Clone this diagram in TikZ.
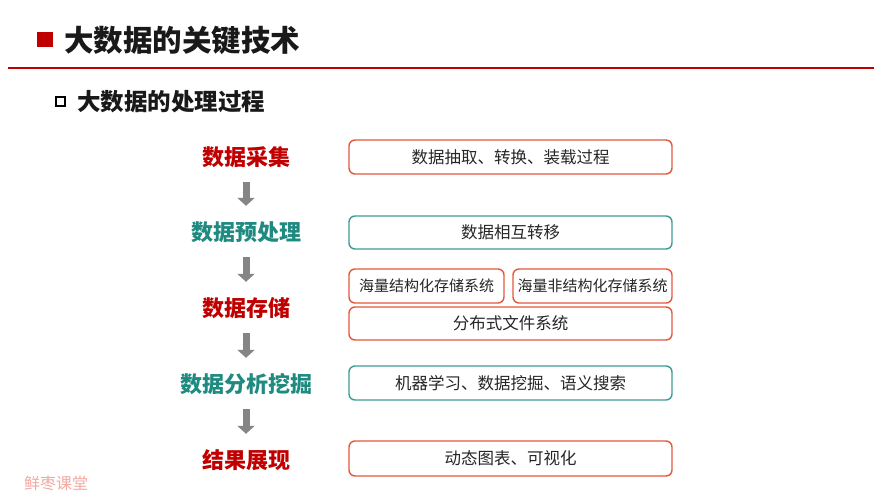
\documentclass[tikz,border=0pt]{standalone}
\usepackage{fontspec}
\setmainfont{Noto Sans CJK SC}
\usetikzlibrary{arrows.meta}
\definecolor{darkred}{HTML}{C00000}
\definecolor{tealtxt}{HTML}{1F8A80}
\definecolor{redbox}{HTML}{E2583E}
\definecolor{tealbox}{HTML}{3B9C97}
\definecolor{arrgray}{HTML}{858585}
\definecolor{wm}{HTML}{F4A9A0}
\tikzset{
  steplabel/.style={inner sep=0pt, text height=19pt, text depth=3pt, font=\fontsize{22}{24}\selectfont\bfseries},
  redlabel/.style={steplabel, text=darkred},
  teallabel/.style={steplabel, text=tealtxt},
  infobox/.style={rounded corners=6pt, line width=1.4pt, inner sep=0pt, font=\fontsize{16.5}{18}\selectfont, text=black!85},
  redinfo/.style={infobox, draw=redbox},
  tealinfo/.style={infobox, draw=tealbox},
  downarrow/.style={arrgray, line width=7pt, -{Triangle[width=17pt,length=8pt]}, shorten <=14pt, shorten >=15pt}
}
\begin{document}
\begin{tikzpicture}[x=1pt,y=-1pt]
\useasboundingbox (0,0) rectangle (888,500);
\fill[white] (0,0) rectangle (888,500);
% header
\fill[darkred] (37,32) rectangle (53,47);
\node[anchor=west, inner sep=0pt, font=\fontsize{29.5}{32}\selectfont\bfseries, text=black!90] (title) at (64,40) {大数据的关键技术};
\draw[darkred, line width=1.4pt] (8,68) -- (874,68);
\draw[black, line width=2pt] (56,97.5) rectangle (65,106.5);
\node[anchor=west, inner sep=0pt, font=\fontsize{23.5}{26}\selectfont\bfseries, text=black!90] (sub) at (77,101.5) {大数据的处理过程};
% left labels
\node[redlabel] (l1) at (246,157) {数据采集};
\node[teallabel] (l2) at (246,232) {数据预处理};
\node[redlabel] (l3) at (246,308) {数据存储};
\node[teallabel] (l4) at (246,384) {数据分析挖掘};
\node[redlabel] (l5) at (246,460) {结果展现};
\draw[downarrow] (l1) -- (l2);
\draw[downarrow] (l2) -- (l3);
\draw[downarrow] (l3) -- (l4);
\draw[downarrow] (l4) -- (l5);
% right boxes
\node[redinfo, minimum width=323pt, minimum height=34pt] (b1) at (510.5,157) {数据抽取、转换、装载过程};
\node[tealinfo, minimum width=323pt, minimum height=33pt] (b2) at (510.5,232.5) {数据相互转移};
\node[redinfo, minimum width=155pt, minimum height=34pt, font=\fontsize{15}{17}\selectfont] (b3a) at (426.5,286) {海量结构化存储系统};
\node[redinfo, minimum width=159pt, minimum height=34pt, font=\fontsize{15}{17}\selectfont] (b3b) at (592.5,286) {海量非结构化存储系统};
\node[redinfo, minimum width=323pt, minimum height=33pt] (b4) at (510.5,323.5) {分布式文件系统};
\node[tealinfo, minimum width=323pt, minimum height=34pt] (b5) at (510.5,383) {机器学习、数据挖掘、语义搜索};
\node[redinfo, minimum width=323pt, minimum height=35pt] (b6) at (510.5,458.5) {动态图表、可视化};
% watermark
\node[anchor=west, inner sep=0pt, font=\fontsize{16}{18}\selectfont, text=wm] (wmk) at (24,483) {鲜枣课堂};
\end{tikzpicture}
\end{document}
